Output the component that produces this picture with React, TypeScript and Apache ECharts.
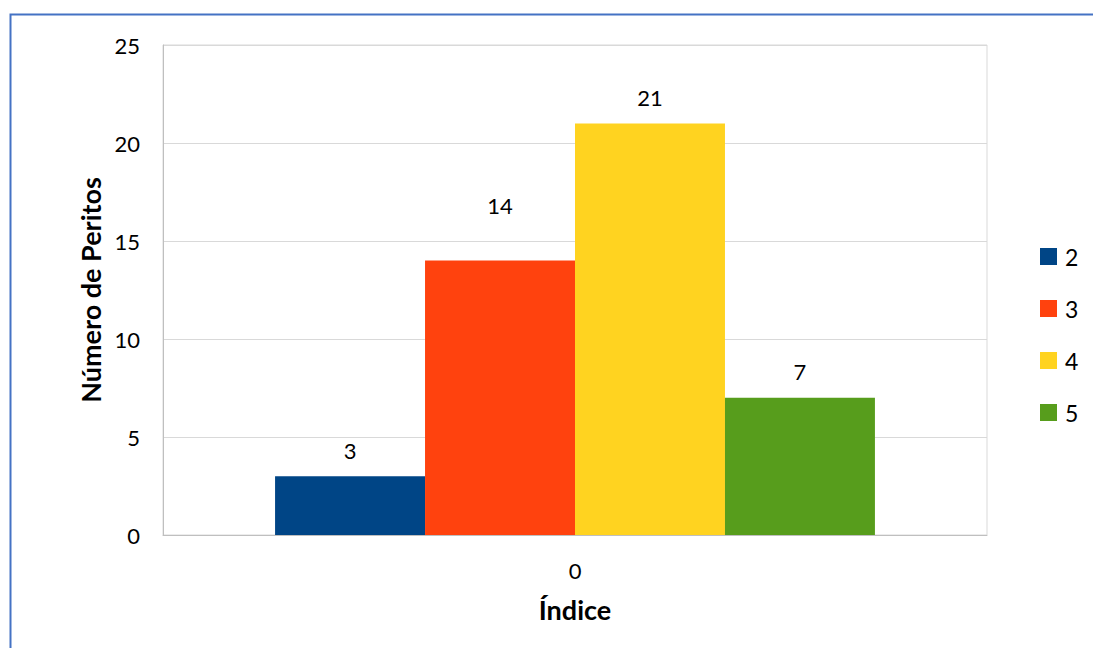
import React, { useEffect, useRef } from "react";
import * as echarts from "echarts";

const categories = ["0"];
const seriesNames = ["2", "3", "4", "5"];
const seriesValues = [3, 14, 21, 7];
const seriesColors = ["#004586", "#ff420e", "#ffd320", "#579d1c"];
const labelOffsets = [0, -29, 0, 0];

const FONT = "Lato, 'Open Sans', sans-serif";

export default function App() {
  const ref = useRef<HTMLDivElement>(null);
  useEffect(() => {
    if (!ref.current) return;
    const chart = echarts.init(ref.current, null, { renderer: "svg" });
    chart.setOption({
      animation: false,
      backgroundColor: "#ffffff",
      textStyle: { fontFamily: FONT, color: "#000" },
      graphic: [
        {
          type: "rect",
          left: 8,
          top: 12,
          shape: { x: 0, y: 0, width: 2000, height: 2000 },
          style: { fill: "none", stroke: "#4472c4", lineWidth: 2 },
          silent: true,
        },
      ],
      grid: {
        left: 163,
        right: 106,
        top: 45,
        bottom: 113,
        show: true,
        borderColor: "#d9d9d9",
        borderWidth: 1,
      },
      legend: {
        orient: "vertical",
        left: 1035,
        top: 240,
        itemWidth: 17,
        itemHeight: 17,
        itemGap: 29,
        icon: "rect",
        textStyle: {
          fontSize: 23,
          fontFamily: FONT,
          color: "#000",
          padding: [0, 0, 0, 3],
        },
        data: seriesNames,
      },
      xAxis: {
        type: "category",
        data: categories,
        name: "Índice",
        nameLocation: "middle",
        nameGap: 61,
        nameTextStyle: { fontSize: 27, fontWeight: "bold", fontFamily: FONT, color: "#000" },
        axisLine: { show: true, lineStyle: { color: "#bfbfbf", width: 1 } },
        axisTick: { show: false },
        axisLabel: { fontSize: 22, color: "#000", margin: 24, fontFamily: FONT },
      },
      yAxis: {
        type: "value",
        min: 0,
        max: 25,
        interval: 5,
        name: "Número de Peritos",
        nameLocation: "middle",
        nameGap: 58,
        nameTextStyle: { fontSize: 27, fontWeight: "bold", fontFamily: FONT, color: "#000" },
        axisLine: { show: true, lineStyle: { color: "#bfbfbf", width: 1 } },
        axisTick: { show: false },
        splitLine: { show: true, lineStyle: { color: "#d9d9d9", width: 1 } },
        axisLabel: { fontSize: 22, color: "#000", margin: 23, fontFamily: FONT },
      },
      series: seriesNames.map((name, i) => ({
        name,
        type: "bar",
        barGap: "0%",
        barCategoryGap: "27.2%",
        itemStyle: { color: seriesColors[i] },
        label: {
          show: true,
          position: "top",
          distance: 15,
          offset: [0, labelOffsets[i]],
          fontSize: 22,
          color: "#000",
          fontFamily: FONT,
        },
        data: [seriesValues[i]],
      })),
    });
    return () => chart.dispose();
  }, []);
  return (
    <div
      ref={ref}
      style={{ position: "fixed", left: 0, top: 0, width: 1093, height: 648 }}
    />
  );
}
